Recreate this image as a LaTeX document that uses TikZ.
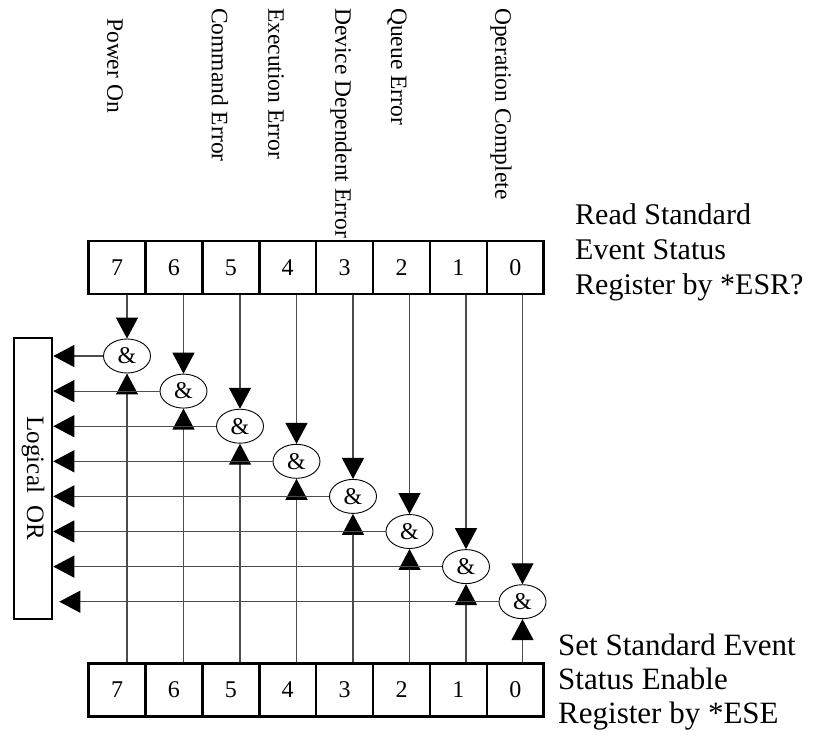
\documentclass[tikz,border=0pt]{standalone}
\usepackage{fontspec}
\setmainfont{Liberation Serif}
\usetikzlibrary{shapes.geometric,arrows.meta,positioning}

\begin{document}
\begin{tikzpicture}[x=1pt, y=-1pt,
    cell/.style={draw, line width=2.6pt, minimum width=56.9pt,
                 minimum height=53pt, inner sep=0pt,
                 font=\fontsize{24}{28}\selectfont},
    andgate/.style={ellipse, draw, line width=0.9pt, minimum width=47pt,
                    minimum height=34pt, inner sep=0pt,
                    font=\fontsize{24}{28}\selectfont},
    conn/.style={draw=black!70, line width=1.2pt,
                 -{Triangle[length=21pt, width=22pt, color=black]}},
    bitlabel/.style={rotate=-90, anchor=west, inner sep=0pt,
                     font=\fontsize{23.5}{27}\selectfont},
    note/.style={anchor=north west, align=left, inner sep=0pt},
]
\useasboundingbox (0,0) rectangle (826,736);

% registers and AND gates
\foreach \b [count=\j from 0] in {7,6,5,4,3,2,1,0} {
    \node[cell] (t\b) at (117+56.9*\j, 267.5) {\b};
    \node[cell] (b\b) at (117+56.9*\j, 690) {\b};
    \node[andgate] (e\b) at (127+56.5*\j, 356+35.1*\j) {\&};
}

\node[draw, line width=2.6pt, minimum width=38pt, minimum height=281pt]
    (orbox) at (33,478.5) {};
\node[rotate=-90, font=\fontsize{25}{28}\selectfont]
    (ortext) at (orbox) {Logical\ \ OR};

% connectors
\foreach \b in {7,6,5,4,3,2,1,0} {
    \draw[conn] (e\b |- t\b.south) -- (e\b.north);
    \draw[conn] (e\b |- b\b.north) -- (e\b.south);
}
\foreach \b in {7,6,5,4,3,2,1}
    \draw[conn] (e\b.west) -- (e\b -| orbox.east);
\draw[conn] (e0.west) -- ([xshift=6pt]e0 -| orbox.east);

% bit names
\node[bitlabel] (lpon) at (115,18) {Power On};
\node[bitlabel] (lcme) at (220,8) {Command Error};
\node[bitlabel] (lexe) at (276,8) {Execution Error};
\node[bitlabel] (ldde) at (341,8) {Device Dependent Error};
\node[bitlabel] (lqye) at (397,8) {Queue Error};
\node[bitlabel] (lopc) at (501,8) {Operation Complete};

\node[note, font=\fontsize{30}{35}\selectfont] (esr) at (575,203)
    {Read Standard\\Event Status\\Register by *ESR?};
\node[note, font=\fontsize{31}{34}\selectfont] (ese) at (558,634)
    {Set Standard Event\\Status Enable\\Register by *ESE};
\end{tikzpicture}
\end{document}
